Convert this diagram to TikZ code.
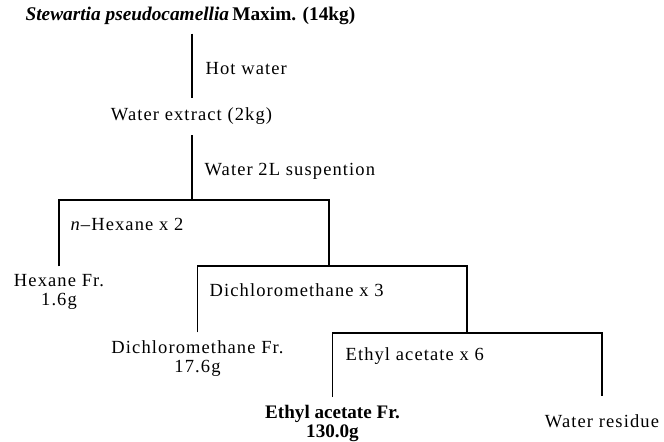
\documentclass[tikz,border=0pt]{standalone}
\usepackage{fontspec}
\setmainfont{Liberation Serif}
\newfontfamily\widefont[LetterSpace=6]{Liberation Serif}
\tikzset{
  txt/.style={inner sep=0pt,font=\widefont\fontsize{15.8}{16}\selectfont},
  frac/.style={txt,align=center,anchor=north},
  boldfr/.style={inner sep=0pt,align=center,anchor=north,font=\bfseries\fontsize{16.3}{16.3}\selectfont},
  step lbl/.style={txt,anchor=base west}
}
\begin{document}
\begin{tikzpicture}[x=.03cm,y=-.03cm,line width=1pt]
    \useasboundingbox (0,0) rectangle (664,441);
    \node[inner sep=0pt,anchor=base west,font=\bfseries\fontsize{16.5}{18}\selectfont](src) at (25,20){\textit{Stewartia pseudocamellia}\,Maxim. (14kg)};
    \node[txt,anchor=base](ext) at (191.5,120.7){Water extract (2kg)};
    \coordinate (s1) at (192,200);
    \coordinate (s2) at (329,266);
    \coordinate (s3) at (467,333);
    \node[frac](hex) at (59,274){Hexane Fr.\\1.6g};
    \node[frac](dcm) at (197.5,340.5){Dichloromethane Fr.\\17.6g};
    \node[boldfr](eaf) at (332.5,405){Ethyl acetate Fr.\\130.0g};
    \node[txt,anchor=base](wr) at (602,427){Water residue};
    \node[step lbl](l1) at (205,74){Hot water};
    \node[step lbl](l2) at (204,175.7){Water 2L suspention};
    \node[step lbl](l3) at (70,230){\textit{n}\textendash Hexane x 2};
    \node[step lbl](l4) at (209,296.7){Dichloromethane x 3};
    \node[step lbl](l5) at (345,360){Ethyl acetate x 6};
    \draw[shorten <=7.5pt,shorten >=8pt](src.south -| s1)--(ext.north -| s1);
    \draw[shorten <=8.5pt](ext.south -| s1)--(s1);
    \draw[shorten <=6.5pt](hex)|-(s2 |- s1)--(s2);
    \draw[shorten <=7pt](dcm)|-(s3 |- s2)--(s3);
    \draw[shorten <=6.8pt,shorten >=14.7pt](eaf)|-(wr |- s3)--(wr);
\end{tikzpicture}
\end{document}
